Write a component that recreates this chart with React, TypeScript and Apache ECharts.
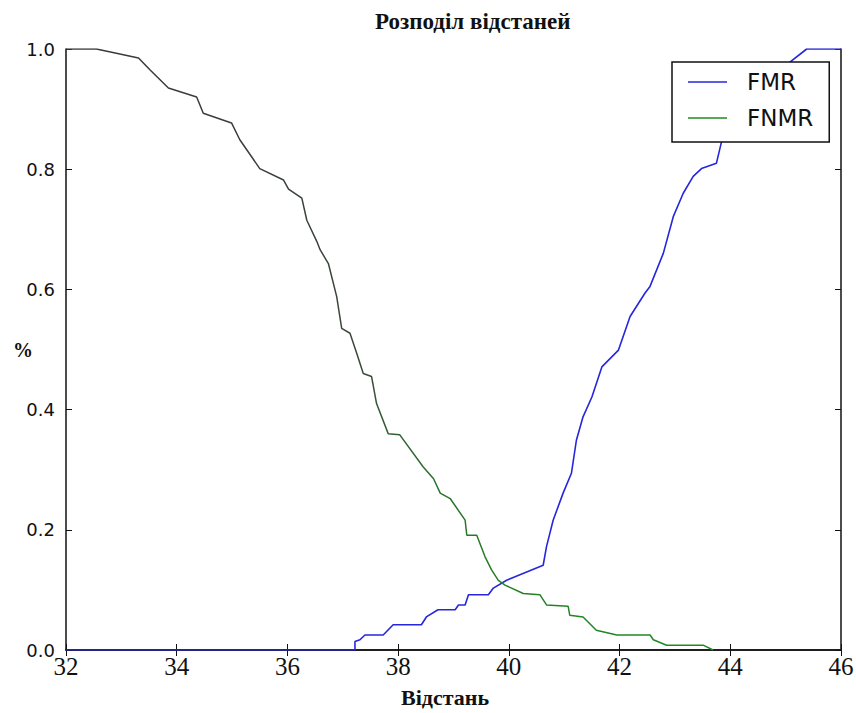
import React, { useEffect, useRef } from "react";
import * as echarts from "echarts";

const xTicks = [32, 34, 36, 38, 40, 42, 44, 46];
const yTicks = [0, 0.2, 0.4, 0.6, 0.8, 1.0];
const seriesNames = ["FMR", "FNMR"];

const fmrData: [number, number][] = [
  [32, 0], [37.22, 0], [37.22, 0.014], [37.31, 0.017], [37.4, 0.025], [37.73, 0.025],
  [37.91, 0.042], [38.42, 0.042], [38.51, 0.055], [38.72, 0.067], [39.03, 0.067],
  [39.09, 0.075], [39.21, 0.075], [39.27, 0.092], [39.63, 0.092], [39.72, 0.103],
  [39.96, 0.116], [40.62, 0.141], [40.68, 0.172], [40.8, 0.216], [40.98, 0.261],
  [41.13, 0.294], [41.22, 0.349], [41.34, 0.388], [41.5, 0.421], [41.68, 0.471],
  [41.98, 0.499], [42.19, 0.555], [42.46, 0.594], [42.55, 0.605], [42.79, 0.66],
  [42.97, 0.721], [43.15, 0.76], [43.33, 0.788], [43.48, 0.801], [43.75, 0.81],
  [43.84, 0.845], [45.1, 0.98], [45.38, 1.0], [46, 1.0],
];

const fnmrData: [number, number][] = [
  [32, 1.0], [32.55, 1.0], [33.31, 0.985], [33.52, 0.965], [33.85, 0.935], [34.36, 0.92],
  [34.48, 0.893], [34.99, 0.877], [35.14, 0.849], [35.5, 0.801], [35.93, 0.782],
  [36.02, 0.767], [36.26, 0.752], [36.35, 0.715], [36.53, 0.68], [36.59, 0.666],
  [36.74, 0.643], [36.89, 0.588], [36.98, 0.535], [37.13, 0.527], [37.25, 0.494],
  [37.37, 0.46], [37.52, 0.455], [37.61, 0.41], [37.82, 0.36], [38.03, 0.358],
  [38.45, 0.305], [38.64, 0.285], [38.76, 0.261], [38.94, 0.252], [39.21, 0.216],
  [39.24, 0.191], [39.42, 0.191], [39.57, 0.155], [39.69, 0.133], [39.81, 0.116],
  [39.93, 0.108], [40.26, 0.094], [40.56, 0.092], [40.68, 0.075], [41.07, 0.073],
  [41.1, 0.058], [41.34, 0.055], [41.58, 0.033], [41.95, 0.025], [42.55, 0.025],
  [42.61, 0.017], [42.85, 0.008], [43.51, 0.008], [43.69, 0.0],
];

const FMR_COLOR = "#2626dc";
const FNMR_COLOR = "#1f8a1f";

export default function App() {
  const ref = useRef<HTMLDivElement>(null);
  useEffect(() => {
    if (!ref.current) return;
    const chart = echarts.init(ref.current, undefined, { renderer: "svg" });
    const axisLine = { show: true, lineStyle: { color: "#111", width: 1.5 } };
    const tick = { show: true, inside: true, length: 6, lineStyle: { color: "#111", width: 1 } };
    chart.setOption({
      animation: false,
      backgroundColor: "#ffffff",
      title: {
        text: "Розподіл відстаней",
        left: 370,
        top: 5,
        textStyle: { fontFamily: "Liberation Serif", fontWeight: "bold", fontSize: 23, color: "#111" },
      },
      legend: {
        orient: "vertical",
        left: 672,
        top: 62,
        icon: "rect",
        data: [
          { name: seriesNames[0], itemStyle: { color: FMR_COLOR } },
          { name: seriesNames[1], itemStyle: { color: FNMR_COLOR } },
        ],
        backgroundColor: "#ffffff",
        borderColor: "#111",
        borderWidth: 1.5,
        borderRadius: 0,
        padding: [7, 16, 11, 16],
        itemGap: 10,
        itemWidth: 39,
        itemHeight: 1.5,
        textStyle: { fontFamily: "DejaVu Sans", fontSize: 23, color: "#111", lineHeight: 26, padding: [0, 0, 0, 15] },
      },
      grid: { left: 66, right: 15, top: 49, bottom: 63, containLabel: false, outerBoundsMode: "none" },
      xAxis: [
        {
          type: "value",
          min: 32,
          max: 46,
          interval: 2,
          position: "bottom",
          name: "Відстань",
          nameLocation: "middle",
          nameGap: 36,
          nameTextStyle: {
            fontFamily: "Liberation Serif",
            fontWeight: "bold",
            fontSize: 22,
            color: "#111",
            padding: [0, 17, 0, 0],
          },
          axisLine,
          axisTick: tick,
          splitLine: { show: false },
          axisLabel: {
            fontFamily: "Liberation Sans Narrow",
            fontSize: 25,
            color: "#111",
            margin: 4,
            formatter: (v: number) => (xTicks.includes(v) ? String(v) : ""),
          },
        },
        {
          type: "value",
          min: 32,
          max: 46,
          interval: 2,
          position: "top",
          axisLine,
          axisTick: tick,
          splitLine: { show: false },
          axisLabel: { show: false },
        },
      ],
      yAxis: [
        {
          type: "value",
          min: 0,
          max: 1,
          interval: 0.2,
          position: "left",
          name: "%",
          nameLocation: "middle",
          nameRotate: 0,
          nameGap: 33,
          nameMoveOverlap: false,
          nameTextStyle: { fontFamily: "Liberation Serif", fontWeight: "bold", fontSize: 20, color: "#111" },
          axisLine,
          axisTick: tick,
          splitLine: { show: false },
          axisLabel: {
            fontFamily: "DejaVu Sans",
            fontSize: 18,
            color: "#111",
            margin: 11,
            formatter: (v: number) => {
              const t = yTicks.find((y) => Math.abs(y - v) < 1e-6);
              return t === undefined ? "" : t.toFixed(1);
            },
          },
        },
        {
          type: "value",
          min: 0,
          max: 1,
          interval: 0.2,
          position: "right",
          axisLine,
          axisTick: tick,
          splitLine: { show: false },
          axisLabel: { show: false },
        },
      ],
      series: [
        {
          name: seriesNames[0],
          type: "line",
          data: fmrData,
          symbol: "none",
          lineStyle: { color: FMR_COLOR, width: 1.6 },
          itemStyle: { color: FMR_COLOR },
        },
        {
          name: seriesNames[1],
          type: "line",
          data: fnmrData,
          symbol: "none",
          lineStyle: {
            width: 1.5,
            color: new echarts.graphic.LinearGradient(0, 0, 0, 1, [
              { offset: 0, color: "#3a3a3a" },
              { offset: 0.55, color: "#3a4a3a" },
              { offset: 0.7, color: "#2e6e2e" },
              { offset: 1, color: FNMR_COLOR },
            ]),
          },
          itemStyle: { color: FNMR_COLOR },
        },
      ],
    });
    return () => chart.dispose();
  }, []);
  return (
    <div
      ref={ref}
      style={{ position: "absolute", left: 0, top: 0, width: 856, height: 713, background: "#fff" }}
    />
  );
}
